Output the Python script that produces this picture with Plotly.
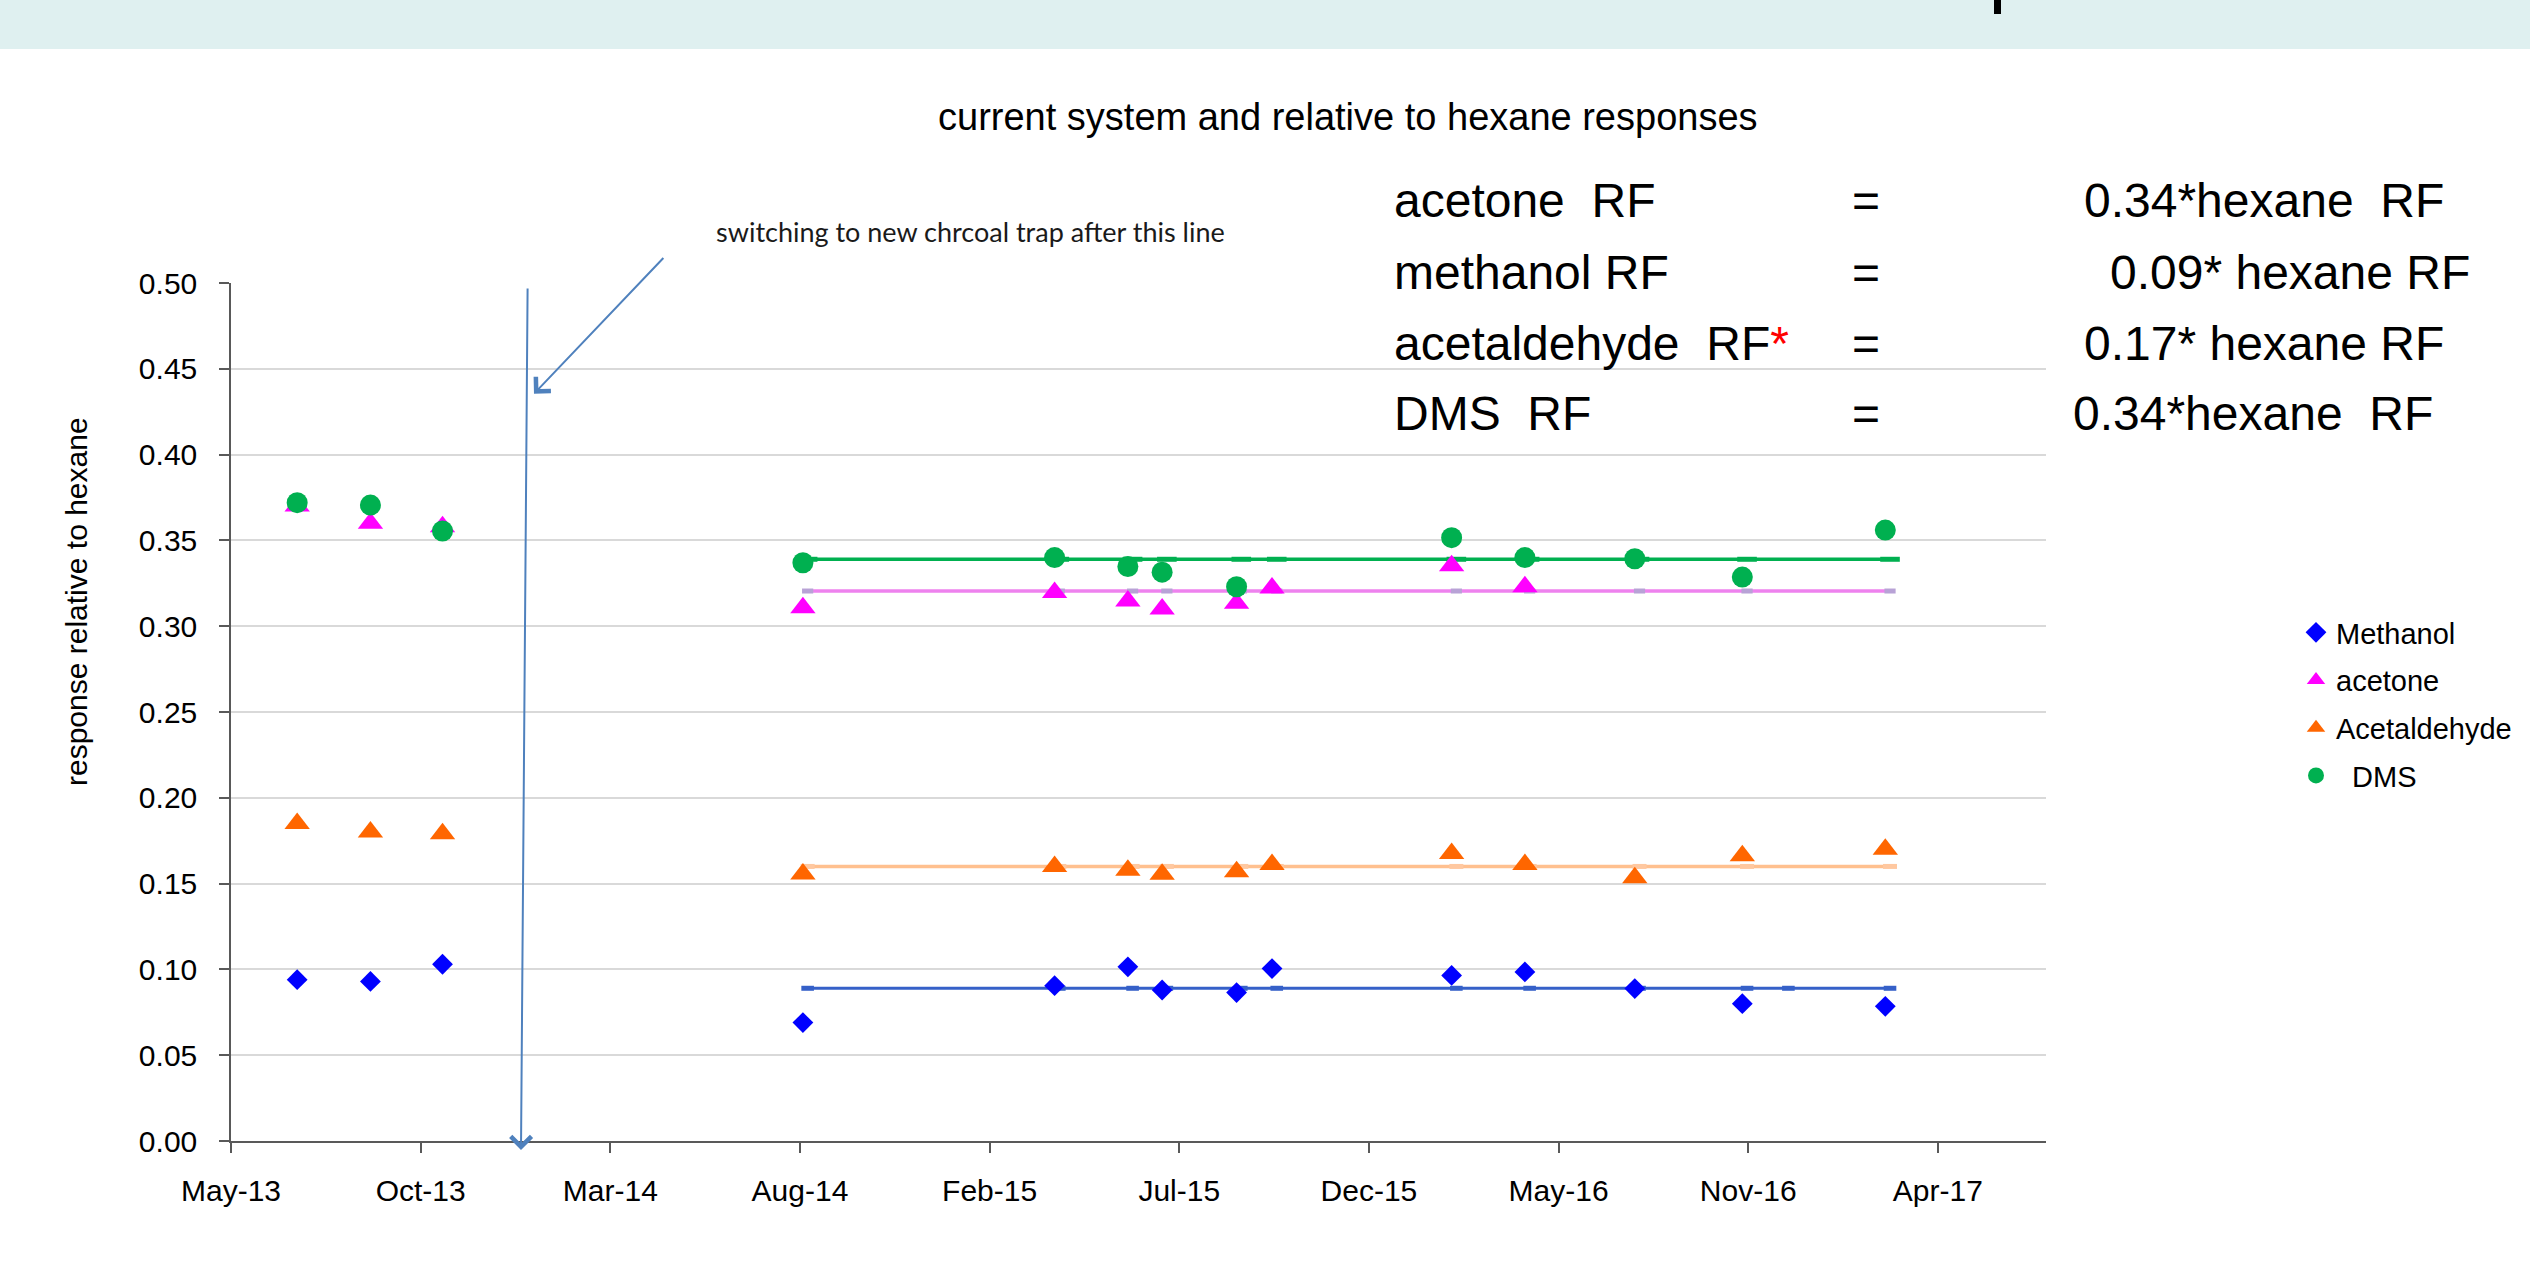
import plotly.graph_objects as go

# ---------------- data ----------------
dates = ["2013-06-26", "2013-08-27", "2013-10-27", "2014-08-28", "2015-03-29",
         "2015-05-30", "2015-06-28", "2015-08-30", "2015-09-29", "2016-02-28",
         "2016-04-30", "2016-08-01", "2016-10-31", "2017-03-01"]
methanol = [0.094, 0.093, 0.103, 0.069, 0.0905, 0.1015, 0.088, 0.0865, 0.1005,
            0.0965, 0.0985, 0.0888, 0.080, 0.0785]
acetone = [0.370, 0.360, 0.358, 0.3107, 0.3196, 0.3147, 0.310, 0.3134, 0.3223,
           0.3353, 0.323, None, None, None]
acetaldehyde = [0.185, 0.180, 0.179, 0.1556, 0.160, 0.1578, 0.1554, 0.1569, 0.1612,
                0.1676, 0.1612, 0.1534, 0.1663, 0.170]
dms = [0.372, 0.3706, 0.3555, 0.337, 0.340, 0.3348, 0.3315, 0.323, None,
       0.3516, 0.340, 0.3393, 0.3286, 0.356]

avg_dates = ["2014-09-01", "2015-04-02", "2015-06-03", "2015-07-02", "2015-09-03",
             "2015-10-03", "2016-03-03", "2016-05-04", "2016-08-05", "2016-11-04",
             "2016-12-09", "2017-03-05"]
methanol_avg = [0.089, 0.089, 0.089, 0.089, 0.089, 0.089, 0.089, 0.089, 0.089, 0.089, 0.089, 0.089]
acetone_avg = [0.3205, 0.3205, 0.3205, 0.3205, 0.3205, 0.3205, 0.3205, 0.3205, 0.3205, 0.3205, None, 0.3205]
acetaldehyde_avg = [0.160, 0.160, 0.160, 0.160, 0.160, 0.160, 0.160, 0.160, 0.160, 0.160, None, 0.160]
dms_avg = [0.339, 0.339, 0.339, 0.339, 0.339, 0.339, 0.339, 0.339, 0.339, 0.339, None, 0.339]

tick_dates = ["2013-05-01", "2013-10-08 12:00", "2014-03-18", "2014-08-25 12:00",
              "2015-02-02", "2015-07-12 12:00", "2015-12-20", "2016-05-28 12:00",
              "2016-11-05", "2017-04-14 12:00"]
tick_labels = ["May-13", "Oct-13", "Mar-14", "Aug-14", "Feb-15", "Jul-15",
               "Dec-15", "May-16", "Nov-16", "Apr-17"]

series_names = ["Methanol", "acetone", "Acetaldehyde", "\u00a0\u00a0DMS"]

title_text = "current system and relative to hexane responses"
y_title = "response relative to hexane"
note_text = "switching to new chrcoal trap after this line"
eq_left = ["acetone\u00a0\u00a0RF", "methanol RF",
           "acetaldehyde\u00a0\u00a0RF<span style='color:#FF0000'>*</span>", "DMS\u00a0\u00a0RF"]
eq_right = ["0.34*hexane\u00a0\u00a0RF", "0.09* hexane RF", "0.17* hexane RF", "0.34*hexane\u00a0\u00a0RF"]

# ---------------- layout geometry (pixels) ----------------
W, H = 2530, 1267
L, R, T, B = 231, 484, 283, 126
PW, PH = W - L - R, H - T - B


def px(x):
    return (x - L) / PW


def py(y):
    return (H - B - y) / PH


ARIAL = "Liberation Sans, Arial, sans-serif"

fig = go.Figure()

# average lines
avg_specs = [
    (methanol_avg, "#3560C8", "#3560C8", 9, 3),
    (acetaldehyde_avg, "#FFC08F", "#FFC8A0", 10, 3.5),
    (acetone_avg, "#EE82EE", "#B8A2D6", 8, 3.5),
    (dms_avg, "#00B050", "#00B050", 14, 3.5),
]
for vals, lc, mc, ms, lw in avg_specs:
    fig.add_trace(go.Scatter(
        x=avg_dates, y=vals, mode="lines+markers", connectgaps=True,
        line=dict(color=lc, width=lw),
        marker=dict(symbol="line-ew", size=ms, color=mc, line=dict(color=mc, width=5)),
        showlegend=False, hoverinfo="skip"))

# data series
data_specs = [
    (methanol, series_names[0], "diamond", "#0000FF", 16),
    (acetone, series_names[1], "triangle-up", "#FF00FF", 22),
    (acetaldehyde, series_names[2], "triangle-up", "#FF6600", 22),
    (dms, series_names[3], "circle", "#00B050", 21),
]
for vals, name, sym, col, size in data_specs:
    fig.add_trace(go.Scatter(
        x=dates, y=vals, mode="markers", name=name, legendgroup=name,
        marker=dict(symbol=sym, size=size, color=col, line=dict(width=0))))

annotations = []
# title
annotations.append(dict(x=px(1348), y=py(117), xref="paper", yref="paper",
                        text=title_text, showarrow=False, xanchor="center", yanchor="middle",
                        font=dict(family=ARIAL, size=38, color="#000000")))
# y title
annotations.append(dict(x=px(76), y=py(602), xref="paper", yref="paper",
                        text=y_title, showarrow=False, textangle=-90,
                        xanchor="center", yanchor="middle",
                        font=dict(family=ARIAL, size=30, color="#000000")))
# note
annotations.append(dict(x=px(970), y=py(231), xref="paper", yref="paper",
                        text=note_text, showarrow=False, xanchor="center", yanchor="middle",
                        font=dict(family="Lato, Carlito, sans-serif", size=27, color="#1a1a1a")))
# equations
row_y = [200, 272, 343, 413]
right_x = [2082, 2108, 2082, 2071]
for i in range(4):
    annotations.append(dict(x=px(1392), y=py(row_y[i]), xref="paper", yref="paper",
                            text=eq_left[i], showarrow=False, xanchor="left", yanchor="middle",
                            font=dict(family=ARIAL, size=48, color="#000000")))
    annotations.append(dict(x=px(1866), y=py(row_y[i]), xref="paper", yref="paper",
                            text="=", showarrow=False, xanchor="center", yanchor="middle",
                            font=dict(family=ARIAL, size=48, color="#000000")))
    annotations.append(dict(x=px(right_x[i]), y=py(row_y[i]), xref="paper", yref="paper",
                            text=eq_right[i], showarrow=False, xanchor="left", yanchor="middle",
                            font=dict(family=ARIAL, size=48, color="#000000")))
# arrows (paper-referenced so they are never hidden)
annotations.append(dict(x=px(521), y=py(1150), xref="paper", yref="paper",
                        ax=6.6, ay=-863, text="", showarrow=True, arrowhead=4,
                        arrowsize=2, arrowwidth=2, arrowcolor="#4F81BD", standoff=0))
annotations.append(dict(x=px(534), y=py(393.7), xref="paper", yref="paper",
                        ax=130.8, ay=-137.2, text="", showarrow=True, arrowhead=4,
                        arrowsize=2, arrowwidth=2, arrowcolor="#4F81BD", standoff=0))

shapes = [
    dict(type="rect", xref="paper", yref="paper", x0=px(0), x1=px(W), y0=py(0), y1=py(49),
         fillcolor="#DFF0F0", line=dict(width=0), layer="below"),
    dict(type="rect", xref="paper", yref="paper", x0=px(1994), x1=px(2001), y0=py(0), y1=py(14),
         fillcolor="#000000", line=dict(width=0)),
]

fig.update_layout(
    width=W, height=H, autosize=False,
    margin=dict(l=L, r=R, t=T, b=B, pad=0),
    paper_bgcolor="#FFFFFF", plot_bgcolor="#FFFFFF",
    font=dict(family=ARIAL, color="#000000"),
    showlegend=True,
    legend=dict(x=px(2296), y=py(607), xanchor="left", yanchor="top",
                font=dict(family=ARIAL, size=29, color="#000000"),
                bgcolor="rgba(0,0,0,0)", borderwidth=0, tracegroupgap=7, itemwidth=30),
    annotations=annotations,
    shapes=shapes,
    xaxis=dict(type="date", range=["2013-05-01", "2017-07-15"],
               tickmode="array", tickvals=tick_dates, ticktext=tick_labels,
               ticks="outside", ticklen=10, tickwidth=1.5, tickcolor="#595959",
               showline=True, linecolor="#595959", linewidth=1.5,
               showgrid=False, zeroline=False, ticklabelstandoff=12,
               tickfont=dict(family=ARIAL, size=30, color="#000000")),
    yaxis=dict(range=[0, 0.5], tickmode="linear", tick0=0, dtick=0.05, tickformat=".2f",
               ticks="outside", ticklen=10, tickwidth=1.5, tickcolor="#595959",
               showline=True, linecolor="#595959", linewidth=1.5,
               showgrid=True, gridcolor="#D9D9D9", gridwidth=1.5, zeroline=False,
               ticklabelstandoff=16,
               tickfont=dict(family=ARIAL, size=30, color="#000000")),
)

fig.write_html("out.html",
               config={"responsive": False, "displayModeBar": False},
               post_script="document.body.style.margin='0px';")
